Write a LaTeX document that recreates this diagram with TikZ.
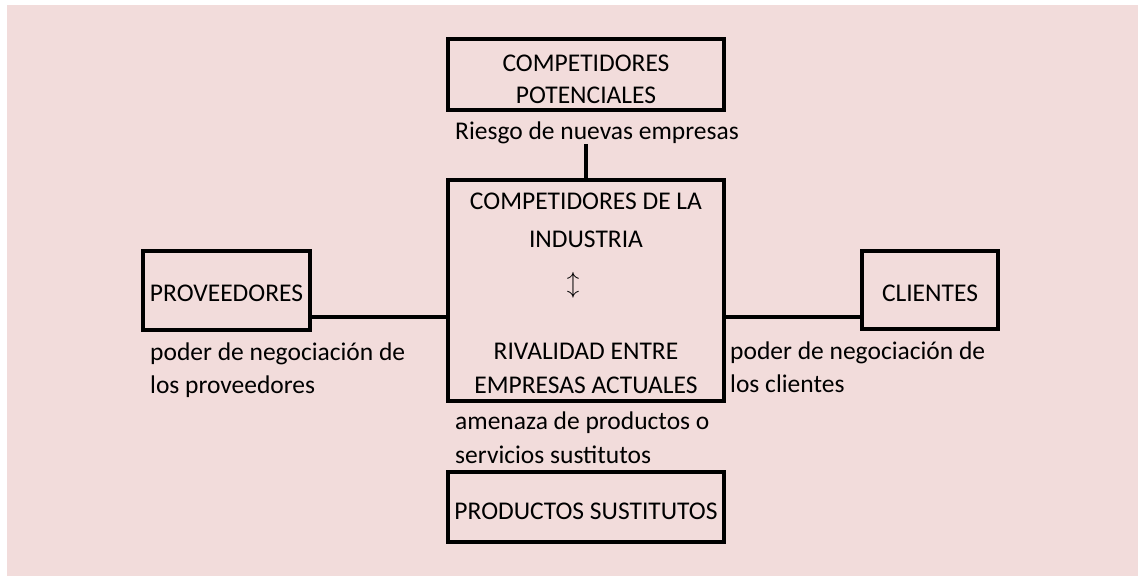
\documentclass[tikz,border=0pt]{standalone}
\usepackage{fontspec}
\setmainfont{Carlito}
\usepackage{tikz}
\usetikzlibrary{positioning, calc}

\definecolor{rosa}{HTML}{F2DCDB}

\tikzset{
  caja/.style={draw, line width=3.2pt, inner sep=0pt, align=center, text height=22pt, text depth=0pt},
  etiqueta/.style={inner sep=0pt, align=left},
  linea/.style={line width=3.2pt},
}

\begin{document}
\begin{tikzpicture}[x=1pt, y=-1pt, font=\fontsize{25.5}{33}\selectfont]
\useasboundingbox (0,0) rectangle (1138,576);
\fill[rosa] (7,5) rectangle (1138,576);
% cajas
\node[caja, minimum width=276, minimum height=71] (potenciales) at (586,74.5) {};
\node[caja, minimum width=276, minimum height=221] (centro) at (586,290.5) {};
\node[caja, minimum width=167, minimum height=79] (prov) at (226.5,290.5) {PROVEEDORES};
\node[caja, minimum width=136, minimum height=78] (clientes) at (930,290) {CLIENTES};
\node[caja, minimum width=276, minimum height=70, text height=24pt] (sustitutos) at (586,507) {PRODUCTOS SUSTITUTOS};
% texto de las cajas grandes
\node[inner sep=0pt, anchor=base, align=center] (potentxt) at (586,103) {COMPETIDORES\\[-1pt] POTENCIALES};
\node[inner sep=0pt, anchor=base, align=center] (industria) at (586,247) {COMPETIDORES DE LA\\[5pt] INDUSTRIA};
\node[inner sep=0pt, font=\fontsize{28}{30}\selectfont] (flecha) at (573,285) {$\updownarrow$};
\node[inner sep=0pt, anchor=base, align=center] (rivalidad) at (586,393) {RIVALIDAD ENTRE\\[1pt] EMPRESAS ACTUALES};
% etiquetas
\node[etiqueta, anchor=base west] (riesgo) at (455,139) {Riesgo de nuevas empresas};
\node[etiqueta, anchor=base west] (poderprov) at (150,393) {poder de negociación de\\los proveedores};
\node[etiqueta, anchor=base west] (podercli) at (730,392) {poder de negociación de\\los clientes};
\node[etiqueta, anchor=base west] (amenaza) at (455,463) {amenaza de productos o\\[1pt] servicios sustitutos};
% lineas
\coordinate (hy) at (0,317);
\draw[linea] (centro.north) -- (centro.north |- riesgo.south);
\draw[linea] (prov.east |- hy) -- (centro.west |- hy);
\draw[linea] (centro.east |- hy) -- (clientes.west |- hy);
\end{tikzpicture}
\end{document}
